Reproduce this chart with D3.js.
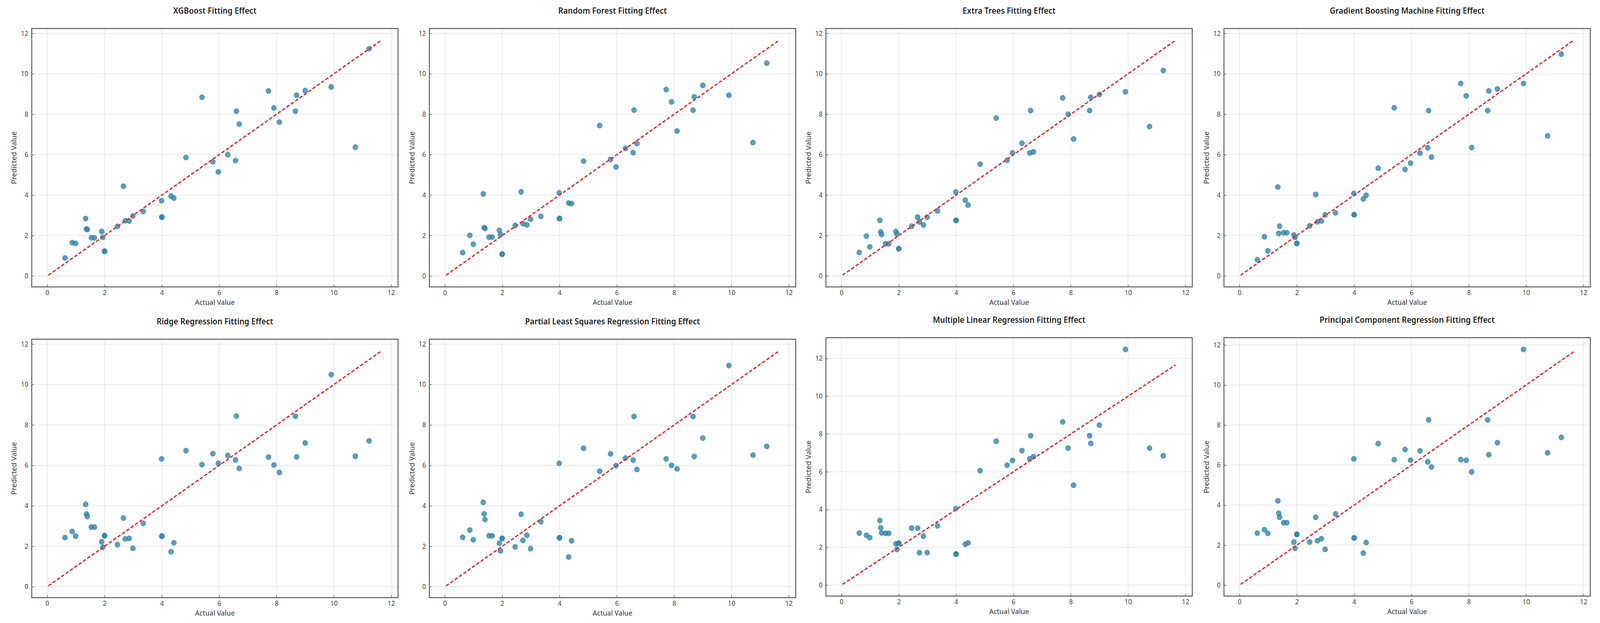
<!DOCTYPE html>
<html>
<head>
<meta charset="utf-8">
<script src="https://cdn.jsdelivr.net/npm/d3@7"></script>
<style>
  html, body { margin: 0; padding: 0; background: #ffffff; overflow: hidden; width: 100%; height: 100%; }
  svg { display: block; width: 100vw; height: 100vh; }
  text { font-family: "Noto Sans", "Open Sans", sans-serif; }
</style>
</head>
<body>
<svg id="chart" viewBox="0 0 4289 1596" preserveAspectRatio="none"></svg>
<script>
// ---------------- DATA ----------------
const titles = [
  "XGBoost Fitting Effect",
  "Random Forest Fitting Effect",
  "Extra Trees Fitting Effect",
  "Gradient Boosting Machine Fitting Effect",
  "Ridge Regression Fitting Effect",
  "Partial Least Squares Regression Fitting Effect",
  "Multiple Linear Regression Fitting Effect",
  "Principal Component Regression Fitting Effect"
];

const actualValues = [
  0.62, 0.87, 0.99, 1.34, 1.37, 1.40, 1.54, 1.65, 1.90, 1.94,
  2.00, 2.00, 2.45, 2.66, 2.72, 2.86, 2.99, 3.35, 3.99, 4.00,
  4.00, 4.32, 4.42, 4.84, 5.40, 5.78, 5.97, 6.30, 6.57, 6.60,
  6.70, 7.72, 7.91, 8.10, 8.66, 8.70, 9.00, 9.91, 10.75, 11.23
];

const predXGBoost = [
  0.89, 1.65, 1.61, 2.84, 2.32, 2.30, 1.89, 1.89, 2.20, 1.91,
  1.22, 1.22, 2.45, 4.44, 2.73, 2.72, 2.97, 3.19, 3.72, 2.91,
  2.91, 3.95, 3.85, 5.86, 8.84, 5.65, 5.15, 6.00, 5.71, 8.15,
  7.51, 9.15, 8.31, 7.61, 8.15, 8.94, 9.17, 9.35, 6.37, 11.24
];
const predRandomForest = [
  1.16, 2.01, 1.57, 4.06, 2.39, 2.35, 1.92, 1.92, 2.26, 2.04,
  1.08, 1.08, 2.50, 4.16, 2.59, 2.53, 2.81, 2.95, 4.11, 2.84,
  2.84, 3.61, 3.58, 5.68, 7.44, 5.76, 5.39, 6.31, 6.10, 8.20,
  6.55, 9.22, 8.61, 7.17, 8.20, 8.86, 9.43, 8.94, 6.60, 10.53
];
const predExtraTrees = [
  1.16, 1.97, 1.44, 2.75, 2.18, 2.05, 1.59, 1.59, 2.20, 2.08,
  1.35, 1.35, 2.46, 2.91, 2.68, 2.52, 2.91, 3.22, 4.15, 2.75,
  2.75, 3.75, 3.51, 5.53, 7.81, 5.72, 6.09, 6.57, 6.08, 8.18,
  6.14, 8.81, 8.00, 6.77, 8.18, 8.84, 8.98, 9.11, 7.39, 10.16
];
const predGBM = [
  0.80, 1.94, 1.24, 4.40, 2.10, 2.46, 2.14, 2.14, 2.03, 1.91,
  1.61, 1.61, 2.48, 4.03, 2.68, 2.72, 3.02, 3.12, 4.08, 3.03,
  3.03, 3.81, 3.99, 5.33, 8.32, 5.27, 5.58, 6.08, 6.34, 8.18,
  5.88, 9.52, 8.91, 6.35, 8.18, 9.15, 9.25, 9.52, 6.93, 10.97
];
const predRidge = [
  2.43, 2.73, 2.50, 4.07, 3.59, 3.47, 2.95, 2.95, 2.22, 1.95,
  2.52, 2.52, 2.08, 3.39, 2.36, 2.39, 1.90, 3.13, 6.32, 2.50,
  2.50, 1.73, 2.17, 6.73, 6.04, 6.58, 6.10, 6.49, 6.27, 8.44,
  5.85, 6.41, 6.02, 5.65, 8.43, 6.42, 7.11, 10.49, 6.45, 7.21
];
const predPLS = [
  2.44, 2.80, 2.32, 4.17, 3.60, 3.32, 2.52, 2.52, 2.15, 1.77,
  2.39, 2.39, 1.97, 3.58, 2.29, 2.54, 1.88, 3.22, 6.10, 2.42,
  2.42, 1.47, 2.27, 6.85, 5.71, 6.57, 5.99, 6.36, 6.26, 8.42,
  5.80, 6.32, 6.00, 5.83, 8.42, 6.44, 7.35, 10.94, 6.51, 6.94
];
const predMLR = [
  2.75, 2.64, 2.51, 3.42, 3.03, 2.76, 2.74, 2.74, 2.18, 1.89,
  2.22, 2.22, 3.02, 3.01, 1.71, 2.59, 1.72, 3.14, 4.05, 1.64,
  1.64, 2.16, 2.23, 6.06, 7.62, 6.35, 6.60, 7.12, 6.69, 7.91,
  6.80, 8.64, 7.25, 5.29, 7.91, 7.50, 8.47, 12.48, 7.25, 6.85
];
const predPCR = [
  2.60, 2.77, 2.59, 4.21, 3.59, 3.39, 3.12, 3.12, 2.15, 1.84,
  2.54, 2.54, 2.15, 3.39, 2.22, 2.32, 1.79, 3.56, 6.31, 2.36,
  2.36, 1.60, 2.13, 7.07, 6.27, 6.78, 6.24, 6.71, 6.16, 8.26,
  5.90, 6.27, 6.24, 5.66, 8.26, 6.52, 7.12, 11.78, 6.61, 7.38
];

const predictions = [predXGBoost, predRandomForest, predExtraTrees, predGBM,
                     predRidge, predPLS, predMLR, predPCR];

// ideal line endpoints (y = x)
const idealLine = [0.04, 11.66];

const xTickValues = [0, 2, 4, 6, 8, 10, 12];
const yTickValues = [0, 2, 4, 6, 8, 10, 12, 14];

const xLabel = "Actual Value";
const yLabel = "Predicted Value";

// ---------------- LAYOUT ----------------
const colLeft = [85, 1151, 2214, 3281];
const rowTop = [73, 869];
const rowShift = [[0, 0, 0, 0], [0, 0, -4, -4]];
const plotW = 982;
const plotH = 662;

const pointFill = "#2E86AB";
const pointStroke = "#1d5f7c";
const lineColor = "#e3262b";

const svg = d3.select("#chart");
svg.append("rect").attr("width", 4289).attr("height", 1596).attr("fill", "#ffffff");

function marginDomain(values) {
  const lo = d3.min(values), hi = d3.max(values);
  const m = (hi - lo) * 0.05;
  return [lo - m, hi + m];
}

predictions.forEach((pred, idx) => {
  const col = idx % 4, row = Math.floor(idx / 4);
  const left = colLeft[col];
  const top = rowTop[row] + rowShift[row][col];

  const x = d3.scaleLinear()
    .domain(marginDomain(actualValues.concat(idealLine)))
    .range([0, plotW]);
  const y = d3.scaleLinear()
    .domain(marginDomain(pred.concat(idealLine)))
    .range([plotH, 0]);

  const g = svg.append("g").attr("transform", `translate(${left},${top})`);

  const xt = xTickValues.filter(v => v >= x.domain()[0] && v <= x.domain()[1]);
  const yt = yTickValues.filter(v => v >= y.domain()[0] && v <= y.domain()[1]);

  // grid
  g.append("g").selectAll("line").data(xt).join("line")
    .attr("x1", d => x(d)).attr("x2", d => x(d))
    .attr("y1", 0).attr("y2", plotH)
    .attr("stroke", "#e8e8e8").attr("stroke-width", 1.8);
  g.append("g").selectAll("line").data(yt).join("line")
    .attr("y1", d => y(d)).attr("y2", d => y(d))
    .attr("x1", 0).attr("x2", plotW)
    .attr("stroke", "#e8e8e8").attr("stroke-width", 1.8);

  // axes (ticks inward)
  const xAxis = d3.axisBottom(x).tickValues(xt).tickSize(-6).tickPadding(9).tickFormat(d3.format("d"));
  const yAxis = d3.axisLeft(y).tickValues(yt).tickSize(-6).tickPadding(9).tickFormat(d3.format("d"));
  const gx = g.append("g").attr("transform", `translate(0,${plotH})`).call(xAxis);
  const gy = g.append("g").call(yAxis);
  [gx, gy].forEach(a => {
    a.select(".domain").remove();
    a.selectAll(".tick line").attr("stroke", "#555").attr("stroke-width", 1.5);
    a.selectAll(".tick text").attr("fill", "#444").style("font-size", "17.5px")
      .style("font-family", '"Noto Sans", sans-serif');
  });

  // points
  g.append("g").selectAll("circle").data(actualValues.map((a, i) => [a, pred[i]])).join("circle")
    .attr("cx", d => x(d[0])).attr("cy", d => y(d[1])).attr("r", 7)
    .attr("fill", pointFill).attr("fill-opacity", 0.8)
    .attr("stroke", pointStroke).attr("stroke-opacity", 0.6).attr("stroke-width", 0.8);

  // ideal line
  g.append("line")
    .attr("x1", x(idealLine[0])).attr("y1", y(idealLine[0]))
    .attr("x2", x(idealLine[1])).attr("y2", y(idealLine[1]))
    .attr("stroke", lineColor).attr("stroke-width", 3.4)
    .attr("stroke-dasharray", "9,5");

  // frame
  g.append("rect").attr("x", 0).attr("y", 0).attr("width", plotW).attr("height", plotH)
    .attr("fill", "none").attr("stroke", "#5e5e5e").attr("stroke-width", 2.6);

  // title
  g.append("text").attr("x", plotW / 2).attr("y", -45).attr("dy", "0.35em")
    .attr("text-anchor", "middle").attr("fill", "#222")
    .style("font-size", "21px").style("font-weight", 600)
    .text(titles[idx]);

  // axis labels
  g.append("text").attr("x", plotW / 2).attr("y", plotH + 40).attr("dy", "0.35em")
    .attr("text-anchor", "middle").attr("fill", "#333").style("font-size", "18.5px")
    .text(xLabel);
  g.append("text").attr("transform", `translate(-47,${plotH / 2}) rotate(-90)`)
    .attr("dy", "0.35em").attr("text-anchor", "middle").attr("fill", "#333")
    .style("font-size", "18.5px").text(yLabel);
});
</script>
</body>
</html>
